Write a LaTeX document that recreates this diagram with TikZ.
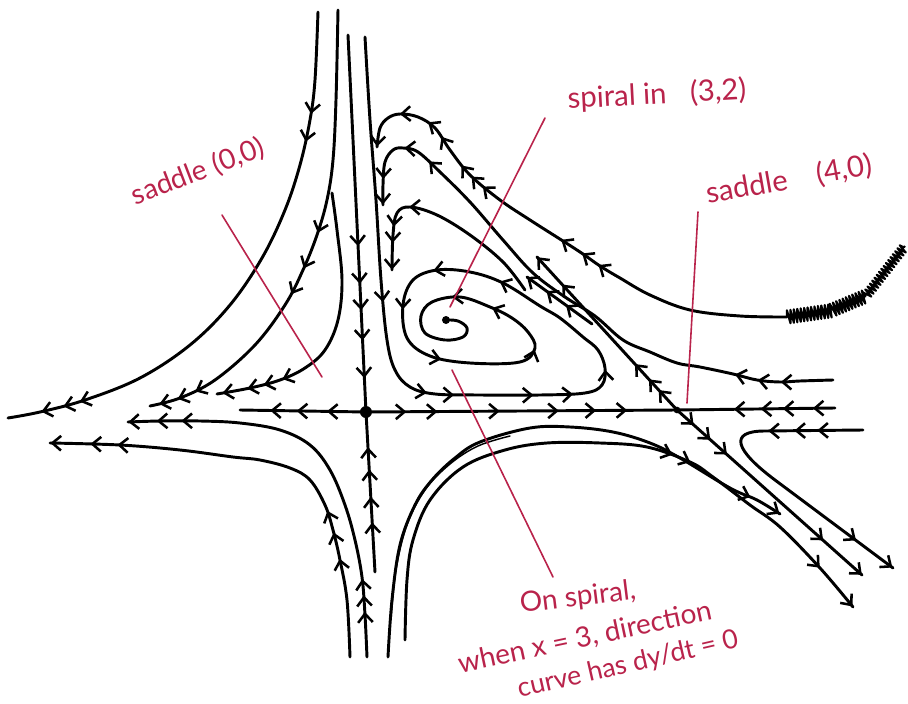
\documentclass[tikz,border=0pt]{standalone}
\usepackage{fontspec}
\setmainfont{Lato}
\usetikzlibrary{arrows.meta,decorations.markings,decorations.pathmorphing}
\definecolor{ink}{RGB}{185,35,75}
\begin{document}
\begin{tikzpicture}[x=0.75pt,y=-0.75pt,shift={(-454,-352)},
  traj/.style={draw=black,line width=2.2pt,line cap=round,line join=round},
  m/.style={postaction={decorate,decoration={markings,mark=at position #1 with {\arrow[line width=1.9pt]{Straight Barb[length=6.5pt,width=11pt]}}}}},
  ann/.style={draw=ink,line width=1.2pt,line cap=round},
  lab/.style={text=ink,font=\fontsize{21}{24}\selectfont,inner sep=0pt},
  dot/.style={circle,fill=black,inner sep=0pt,minimum size=#1},
]
\useasboundingbox (0,0) rectangle (908,704);

% equilibria
\node[dot=9pt] (s0) at (366,412) {};
\node[dot=5pt] (s4) at (677,410) {};
\node[dot=6pt] (c) at (446,320) {};

% free ends
\coordinate (axL) at (240,410);
\coordinate (axR) at (835,408);
\coordinate (axT) at (348,35);
\coordinate (axB) at (375,572);

% axes through saddle (0,0)
\draw[traj,m=0.31,m=0.55,m=0.76] (s0.center) -- (axL);
\draw[traj,m=0.13,m=0.23,m=0.43,m=0.62,m=0.74,m=0.84] (s0.center) -- (s4.center);
\draw[traj,m=0.14,m=0.33,m=0.47,m=0.64] (axR) -- (s4.center);
\draw[traj,m=0.56,m=0.66,m=0.73,m=0.81,m=0.91] (axT) -- (s0.center);
\draw[traj,m=0.31,m=0.47,m=0.64,m=0.78] (axB) -- (s0.center);

% upper-left family
\draw[traj,m=0.18,m=0.23,m=0.87,m=0.90,m=0.94] plot[smooth,tension=0.6] coordinates {
 (318,12) (315,80) (310,120) (300,165) (285,210) (262,258) (230,305) (190,345) (140,378) (85,400) (40,412) (8,418)};
\draw[traj,m=0.47,m=0.55,m=0.61,m=0.9,m=0.94,m=0.98] plot[smooth,tension=0.6] coordinates {
 (338,10) (336,100) (333,160) (327,200) (317,235) (303,270) (285,305) (255,345) (215,380) (180,398) (150,406)};
\draw[traj,m=0.76,m=0.83,m=0.89,m=0.98] plot[smooth,tension=0.6] coordinates {
 (332,193) (337,230) (342,280) (338,320) (325,350) (305,368) (280,380) (250,388) (217,394)};

% lower-left family
\draw[traj,m=0.11,m=0.15,m=0.19,m=0.87,m=0.93,m=0.999] plot[smooth,tension=0.6] coordinates {
 (367,657) (365,615) (362,577) (355,540) (345,505) (330,470) (310,445) (280,430) (240,423) (200,421) (160,421) (128,422)};
\draw[traj,m=0.22,m=0.28,m=0.33,m=0.85,m=0.91,m=0.999] plot[smooth,tension=0.6] coordinates {
 (350,657) (347,600) (340,560) (333,530) (325,505) (310,480) (290,468) (260,460) (233,457) (180,450) (120,445) (50,443)};

% spiral
\draw[traj,m=0.214,m=0.303,m=0.325,m=0.389,m=0.421,m=0.459,m=0.573,m=0.628,m=0.672,m=0.729,m=0.809,m=0.86,m=0.894] plot[smooth,tension=0.6] coordinates {
 (365,37) (370,120) (376,200) (381,280) (387,340) (395,370) (410,387) (435,394) (480,395) (540,395) (585,393) (602,385) (605,368) (598,350) (583,337) (560,318) (540,306) (503,283) (470,272) (437,270) (413,280) (403,305) (407,338) (430,356) (470,363) (520,362) (535,348) (528,332) (512,318) (490,307) (460,297) (432,302) (421,316) (425,333) (445,340) (463,337) (467,328) (458,321) (446,320)};

% hooks
\draw[traj,m=0.40,m=0.44,m=0.49,m=0.68,m=0.71,m=0.74,m=0.81,m=0.85,m=0.91,m=0.999] plot[smooth,tension=0.6] coordinates {
 (787,317) (740,316) (690,310) (650,295) (620,278) (600,266) (583,254) (563,241) (530,220) (500,200) (470,175) (450,150) (435,128) (418,117) (400,114) (388,118) (380,128) (377,147)};
\draw[traj,m=0.09,m=0.13,m=0.17,m=0.83,m=0.88,m=0.955,m=0.999] plot[smooth,tension=0.6] coordinates {
 (833,380) (800,381) (780,382) (757,380) (733,374) (700,367) (677,363) (650,352) (623,340) (595,316) (565,297) (533,273) (503,240) (470,202) (440,172) (418,152) (403,148) (393,150) (385,162) (383,185) (383,205)};
\draw[traj,m=0.67,m=0.80,m=0.875,m=0.999] plot[smooth,tension=0.6] coordinates {
 (525,290) (503,262) (470,235) (437,215) (410,207) (397,213) (393,235) (392,270)};

% scribble
\coordinate (z0) at (787,317);
\coordinate (z1) at (830,311);
\coordinate (z2) at (866,296);
\coordinate (z3) at (905,246);
\draw[line width=1.6pt,line join=round,decorate,decoration={zigzag,amplitude=5pt,segment length=2.6pt}] (z0) -- (z1) -- (z2);
\draw[line width=1.5pt,line join=round,decorate,decoration={zigzag,amplitude=3.5pt,segment length=2.8pt}] (z2) -- (z3);

% separatrices of saddle (4,0)
\coordinate (u1) at (537,257);
\coordinate (u2) at (862,575);
\coordinate (w0) at (592,324);
\coordinate (w1) at (527,277);
\draw[traj,m=0.13,m=0.2,m=0.3,m=0.82,m=0.999] (s4.center) -- (u1);
\draw[traj,m=0.4,m=0.7,m=0.999] (w0) -- (w1);
\draw[traj,m=0.09,m=0.18,m=0.27,m=0.79,m=0.999] (s4.center) -- (u2);
\coordinate (h0) at (863,430);
\coordinate (h1) at (765,431);
\coordinate (h2) at (775,480);
\coordinate (h3) at (893,568);
\draw[traj,m=0.14,m=0.21,m=0.29,m=0.86,m=0.999] (h0) -- (h1) .. controls (728,431) and (735,450) .. (h2) -- (h3);

% arches
\draw[traj,m=0.94,m=0.999] plot[smooth,tension=0.6] coordinates {
 (388,657) (392,600) (400,545) (415,505) (432,480) (455,458) (480,442) (530,428) (570,427) (613,432) (650,443) (680,458) (730,488) (757,500) (780,514)};
\draw[line width=1.1pt,line cap=round] plot[smooth,tension=0.6] coordinates {
 (391,620) (396,570) (407,525) (425,490) (450,464) (478,446) (510,436)};
\draw[traj,m=0.63,m=0.66,m=0.92,m=0.999] plot[smooth,tension=0.6] coordinates {
 (405,640) (407,580) (413,540) (430,500) (463,467) (505,450) (547,443) (600,443) (647,447) (690,462) (713,477) (750,505) (780,527) (820,568) (853,607)};

% annotations
\node[lab,rotate=21] (l1) at (198,172) {saddle (0,0)};
\node[lab,rotate=3,font=\fontsize{22}{24}\selectfont] (l2) at (657,95) {spiral in\hspace{0.8em}(3,2)};
\node[lab,rotate=10,font=\fontsize{22}{24}\selectfont] (l3) at (789,180) {saddle\quad(4,0)};
\node[lab,rotate=7] (l4) at (578,598) {On spiral,};
\node[lab,rotate=12] (l5) at (585,638) {when x = 3, direction};
\node[lab,rotate=13,font=\fontsize{20}{24}\selectfont] (l6) at (628,665) {curve has dy/dt = 0};

\draw[ann] plot[smooth] coordinates {(222,215) (262,280) (322,377)};
\draw[ann] (545,118) -- (450,307);
\draw[ann] (698,212) -- (687,403);
\draw[ann] (452,370) -- (553,577);
\end{tikzpicture}
\end{document}
